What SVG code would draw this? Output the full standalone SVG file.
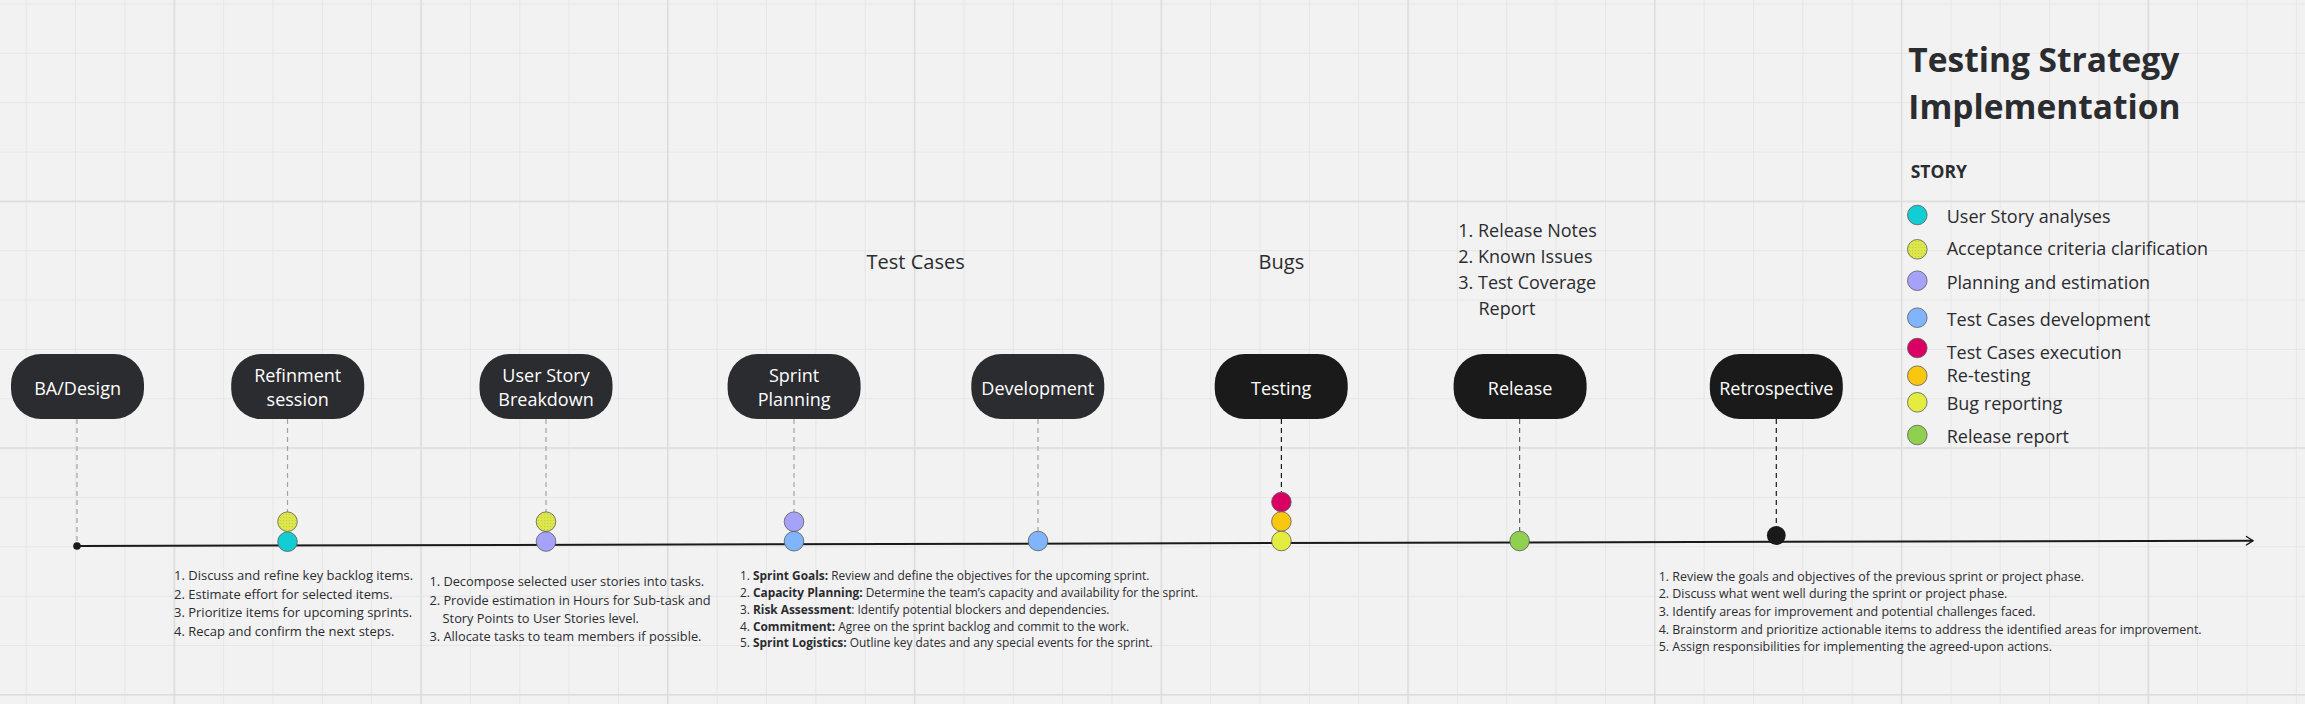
<svg xmlns="http://www.w3.org/2000/svg" width="2305" height="704" viewBox="0 0 2305 704">
<defs>
<style>
text{font-family:"Open Sans","Liberation Sans",sans-serif;fill:#2b2c30}
.nt{font-size:18px;fill:#ffffff;text-anchor:middle}
.n1{fill:#2b2c30}
.n2{fill:#1a1a1a}
.dash{stroke-width:1.2;stroke-dasharray:5 4;fill:none}
.dg{stroke:#a3a3a3}
.dk{stroke:#1a1a1a}
.dm{stroke:#666666}
.dot{stroke:#5a5a5a;stroke-width:0.8}
.sm{font-size:13px}
.b{font-weight:700}
.lg{font-size:18px}
.big{font-size:20px}
</style>
<pattern id="gmin" width="49.35" height="49.35" patternUnits="userSpaceOnUse" x="25.75" y="3.5">
<rect x="0" y="0" width="1" height="49.35" fill="#e6e6e6"/>
<rect x="0" y="0" width="49.35" height="1" fill="#e6e6e6"/>
</pattern>
<pattern id="gmaj" width="246.75" height="246.75" patternUnits="userSpaceOnUse" x="173.55" y="-46.2">
<rect x="0" y="0" width="1.5" height="246.75" fill="#dcdcdc"/>
<rect x="0" y="0" width="246.75" height="1.5" fill="#dcdcdc"/>
</pattern>
<pattern id="speck" width="3" height="3" patternUnits="userSpaceOnUse">
<rect width="3" height="3" fill="#dde64a"/>
<circle cx="1.5" cy="1.5" r="0.6" fill="#b9cf3c"/>
</pattern>
<marker id="arr" markerWidth="10" markerHeight="12" refX="8" refY="6" orient="auto" markerUnits="userSpaceOnUse">
<path d="M1,1.5 L8,6 L1,10.5" fill="none" stroke="#1a1a1a" stroke-width="1.4"/>
</marker>
</defs>

<rect width="2305" height="704" fill="#f2f2f2"/>
<rect width="2305" height="704" fill="url(#gmin)"/>
<rect width="2305" height="704" fill="url(#gmaj)"/>

<g id="connectors">
<line class="dash dg" x1="77" y1="419" x2="77" y2="544"/>
<line class="dash dg" x1="287.5" y1="419" x2="287.5" y2="512"/>
<line class="dash dg" x1="546" y1="419" x2="546" y2="512"/>
<line class="dash dg" x1="794" y1="419" x2="794" y2="512"/>
<line class="dash dg" x1="1038" y1="419" x2="1038" y2="531"/>
<line class="dash dk" x1="1281.4" y1="419" x2="1281.4" y2="492"/>
<line class="dash dm" x1="1519.6" y1="419" x2="1519.6" y2="531"/>
<line class="dash dk" x1="1776.3" y1="419" x2="1776.3" y2="526"/>
<line id="timeline" x1="77" y1="546" x2="2253" y2="540.7" stroke="#1a1a1a" stroke-width="2" marker-end="url(#arr)"/>
<circle cx="77" cy="546" r="3.8" fill="#1a1a1a"/>
</g>

<g id="node-ba-design">
<rect class="n1" x="11" y="354" width="133" height="65" rx="30" ry="30"/>
<text class="nt" x="77.6" y="394.7">BA/Design</text>
</g>
<g id="node-refinement">
<rect class="n1" x="231.2" y="354" width="133" height="65" rx="30" ry="30"/>
<text class="nt" x="297.7" y="382.4">Refinment</text>
<text class="nt" x="297.7" y="406.4">session</text>
<circle class="dot" cx="287.5" cy="521.7" r="9.8" fill="url(#speck)"/>
<circle class="dot" cx="287.5" cy="541.7" r="9.8" fill="#12cdd4"/>
</g>
<g id="node-user-story-breakdown">
<rect class="n1" x="479.5" y="354" width="133" height="65" rx="30" ry="30"/>
<text class="nt" x="546" y="382.4">User Story</text>
<text class="nt" x="546" y="406.4">Breakdown</text>
<circle class="dot" cx="546" cy="521.7" r="9.8" fill="url(#speck)"/>
<circle class="dot" cx="546" cy="541.5" r="9.8" fill="#a6a2fa"/>
</g>
<g id="node-sprint-planning">
<rect class="n1" x="727.6" y="354" width="133" height="65" rx="30" ry="30"/>
<text class="nt" x="794.1" y="382.4">Sprint</text>
<text class="nt" x="794.1" y="406.4">Planning</text>
<circle class="dot" cx="794" cy="521.7" r="9.8" fill="#a6a2fa"/>
<circle class="dot" cx="794" cy="541.2" r="9.8" fill="#80b5fb"/>
</g>
<g id="node-development">
<rect class="n1" x="971.3" y="354" width="133" height="65" rx="30" ry="30"/>
<text class="nt" x="1037.8" y="394.7">Development</text>
<circle class="dot" cx="1038" cy="541" r="9.8" fill="#80b5fb"/>
</g>
<g id="node-testing">
<rect class="n2" x="1214.7" y="354" width="133" height="65" rx="30" ry="30"/>
<text class="nt" x="1281.2" y="394.7">Testing</text>
<circle class="dot" cx="1281.4" cy="502" r="9.8" fill="#da0063"/>
<circle class="dot" cx="1281.4" cy="521.5" r="9.8" fill="#fac710"/>
<circle class="dot" cx="1281.4" cy="541" r="9.8" fill="#e5ec40"/>
</g>
<g id="node-release">
<rect class="n2" x="1453.6" y="354" width="133" height="65" rx="30" ry="30"/>
<text class="nt" x="1520.1" y="394.7">Release</text>
<circle class="dot" cx="1519.6" cy="541" r="9.8" fill="#8fd14f"/>
</g>
<g id="node-retrospective">
<rect class="n2" x="1709.8" y="354" width="133" height="65" rx="30" ry="30"/>
<text class="nt" x="1776.3" y="394.7">Retrospective</text>
<circle cx="1776.3" cy="535.5" r="9.4" fill="#1a1a1a"/>
</g>

<g id="label-test-cases"><text class="big" x="866.6" y="268.5">Test Cases</text></g>
<g id="label-bugs"><text class="big" x="1258.6" y="268.5">Bugs</text></g>
<g id="label-release-artifacts" class="lg">
<text x="1458.3" y="237.3">1. Release Notes</text>
<text x="1458.3" y="263.3">2. Known Issues</text>
<text x="1458.3" y="289.3">3. Test Coverage</text>
<text x="1478.5" y="315">Report</text>
</g>

<g id="notes-refinement" class="sm">
<text x="174" y="580">1. Discuss and refine key backlog items.</text>
<text x="174" y="598.7">2. Estimate effort for selected items.</text>
<text x="174" y="617.3">3. Prioritize items for upcoming sprints.</text>
<text x="174" y="635.5">4. Recap and confirm the next steps.</text>
</g>
<g id="notes-user-story" font-size="12.8">
<text x="429.4" y="586.2">1. Decompose selected user stories into tasks.</text>
<text x="429.4" y="604.5">2. Provide estimation in Hours for Sub-task and</text>
<text x="442.6" y="623">Story Points to User Stories level.</text>
<text x="429.4" y="641.2">3. Allocate tasks to team members if possible.</text>
</g>
<g id="notes-sprint-planning" font-size="11.9">
<text x="739.9" y="579.5">1. <tspan class="b">Sprint Goals:</tspan> Review and define the objectives for the upcoming sprint.</text>
<text x="739.9" y="596.7">2. <tspan class="b">Capacity Planning:</tspan> Determine the team’s capacity and availability for the sprint.</text>
<text x="739.9" y="613.8">3. <tspan class="b">Risk Assessment</tspan>: Identify potential blockers and dependencies.</text>
<text x="739.9" y="630.5">4. <tspan class="b">Commitment:</tspan> Agree on the sprint backlog and commit to the work.</text>
<text x="739.9" y="647.2">5. <tspan class="b">Sprint Logistics:</tspan> Outline key dates and any special events for the sprint.</text>
</g>
<g id="notes-retrospective" font-size="12.45">
<text x="1658.7" y="580.5">1. Review the goals and objectives of the previous sprint or project phase.</text>
<text x="1658.7" y="598.2">2. Discuss what went well during the sprint or project phase.</text>
<text x="1658.7" y="615.8">3. Identify areas for improvement and potential challenges faced.</text>
<text x="1658.7" y="633.5">4. Brainstorm and prioritize actionable items to address the identified areas for improvement.</text>
<text x="1658.7" y="651.2">5. Assign responsibilities for implementing the agreed-upon actions.</text>
</g>

<g id="title">
<text class="b" x="1908.3" y="71.7" font-size="33.5">Testing Strategy</text>
<text class="b" x="1908.3" y="119.3" font-size="33.5">Implementation</text>
<text class="b" x="1910.7" y="178.3" font-size="17.5">STORY</text>
</g>

<g id="legend" class="lg">
<circle class="dot" cx="1917.3" cy="215" r="9.8" fill="#12cdd4"/>
<text x="1946.7" y="222.7">User Story analyses</text>
<circle class="dot" cx="1917.3" cy="249.3" r="9.8" fill="url(#speck)"/>
<text x="1946.7" y="254.8">Acceptance criteria clarification</text>
<circle class="dot" cx="1917.3" cy="280.7" r="9.8" fill="#a6a2fa"/>
<text x="1946.7" y="289.3">Planning and estimation</text>
<circle class="dot" cx="1917.3" cy="317.7" r="9.8" fill="#80b5fb"/>
<text x="1946.7" y="326">Test Cases development</text>
<circle class="dot" cx="1917.3" cy="348" r="9.8" fill="#da0063"/>
<text x="1946.7" y="359.2">Test Cases execution</text>
<circle class="dot" cx="1917.3" cy="375.7" r="9.8" fill="#fac710"/>
<text x="1946.7" y="382.3">Re-testing</text>
<circle class="dot" cx="1917.3" cy="402.3" r="9.8" fill="#e5ec40"/>
<text x="1946.7" y="409.5">Bug reporting</text>
<circle class="dot" cx="1917.3" cy="435" r="9.8" fill="#8fd14f"/>
<text x="1946.7" y="443">Release report</text>
</g>
</svg>
